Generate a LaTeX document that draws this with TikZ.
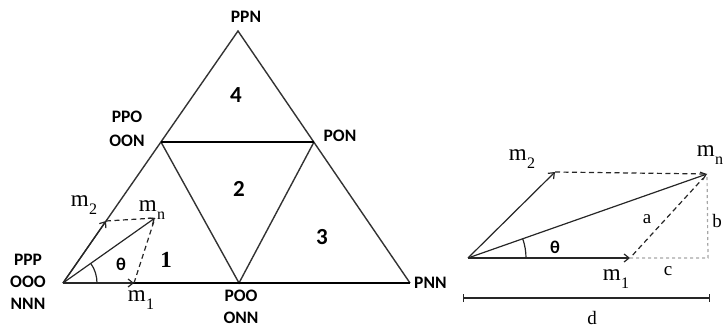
\documentclass[tikz,border=0pt]{standalone}
\usepackage{fontspec}
\setmainfont{Liberation Serif}
\newfontfamily\lblfont{Carlito}
\usetikzlibrary{arrows.meta}
% mass symbol with a lowered subscript
\newcommand\massof[1]{m\kern0.3pt\raisebox{-0.32em}{\fontsize{16}{16}\selectfont #1}}
\begin{document}
\begin{tikzpicture}[x=1pt,y=-1pt,
  side/.style={draw=black!80, line width=1.4pt},
  base/.style={draw=black, line width=2.6pt},
  vlabel/.style={font=\lblfont\bfseries\fontsize{17.5}{19}\selectfont, inner sep=0pt},
  region/.style={font=\lblfont\bfseries\fontsize{23}{25}\selectfont, inner sep=0pt},
  mass/.style={font=\fontsize{23}{25}\selectfont, inner sep=0pt},
  letter/.style={font=\fontsize{19}{21}\selectfont, inner sep=0pt},
  angsym/.style={font=\lblfont\bfseries\fontsize{18}{20}\selectfont, inner sep=0pt},
  vec/.style={draw=black!85, line width=1.2pt, -{Straight Barb[length=5pt,width=8pt]}},
  dsh/.style={draw=black!85, line width=1.2pt, dash pattern=on 5pt off 3.5pt},
  guide/.style={draw=black!35, line width=1.2pt, dash pattern=on 3pt off 3pt},
  arcline/.style={draw=black!85, line width=1.2pt}
]
\useasboundingbox (0,0) rectangle (724,329);

% ---------- ternary triangle ----------
\coordinate (A) at (63,283);   % PPP corner
\coordinate (B) at (410,283);  % PNN corner
\coordinate (T) at (238,31);   % PPN corner
\coordinate (L) at (161,142);  % PPO / OON
\coordinate (R) at (314,142);  % PON
\coordinate (M) at (239,283);  % POO / ONN

\draw[side] (A) -- (T) -- (B);
\draw[side] (L) -- (M) -- (R);
\draw[base] (A) -- (B);
\draw[base] (L) -- (R);

\node[vlabel] (pppl) at (28,260) {PPP};
\node[vlabel] (oool) at (28,282) {OOO};
\node[vlabel] (nnnl) at (28,304) {NNN};
\node[vlabel] (ppnl) at (246,17) {PPN};
\node[vlabel] (ppol) at (127,117) {PPO};
\node[vlabel] (oonl) at (127,141) {OON};
\node[vlabel] (ponl) at (340,136) {PON};
\node[vlabel] (pool) at (241,296) {POO};
\node[vlabel] (onnl) at (241,318) {ONN};
\node[vlabel, anchor=west] (pnnl) at (414,283) {PNN};

\node[region] (r4) at (236,95) {4};
\node[region] (r2) at (239,189) {2};
\node[region] (r3) at (322,237) {3};
\node[font=\bfseries\fontsize{23}{25}\selectfont, inner sep=0pt] (r1) at (166,260) {1};

% ---------- composition vectors inside the triangle ----------
\coordinate (m2a) at (106,221);
\coordinate (mna) at (155,218);
\coordinate (m1a) at (134,283);

\draw[vec] (A) -- (mna);
\draw[vec] (A) -- (m2a);
\draw[vec] (A) -- (m1a);
\draw[dsh] (m2a) -- (mna);
\draw[dsh] (m1a) -- (mna);
\draw[arcline] (A) ++(34,0) arc[start angle=0, end angle=-35, radius=34];

\node[mass] (m2la) at (84,205) {\massof{2}};
\node[mass] (mnla) at (152,210) {\massof{n}};
\node[mass] (m1la) at (141,300) {\massof{1}};
\node[angsym] (tha) at (121,264) {θ};

% ---------- vector decomposition ----------
\coordinate (O2) at (468,258);
\coordinate (M2) at (555,172);
\coordinate (MF) at (707,174);
\coordinate (M1) at (630,258);
\coordinate (C) at (708,258);
\coordinate (d1) at (463,298);
\coordinate (d2) at (710,298);

\draw[guide] (M1) -- (C) -- (MF);
\draw[dsh] (M2) -- (MF);
\draw[dsh, shorten <=4pt, shorten >=6pt] (M1) -- (MF);
\draw[vec] (O2) -- (M2);
\draw[vec] (O2) -- (MF);
\draw[vec] (O2) -- (M1);
\draw[arcline] (O2) ++(58,0) arc[start angle=0, end angle=-19.5, radius=58];
\draw[draw=black!85, line width=1.4pt, {Bar[width=8pt]}-{Bar[width=8pt]}] (d1) -- (d2);

\node[mass] (m2lb) at (522,159) {\massof{2}};
\node[mass] (mnlb) at (710,155) {\massof{n}};
\node[mass] (m1lb) at (616,279) {\massof{1}};
\node[angsym] (thb) at (555,247) {θ};
\node[letter] (la) at (647,219) {a};
\node[letter] (lb) at (717,221) {b};
\node[letter] (lc) at (668,271) {c};
\node[letter] (ld) at (592,318) {d};
\end{tikzpicture}
\end{document}
